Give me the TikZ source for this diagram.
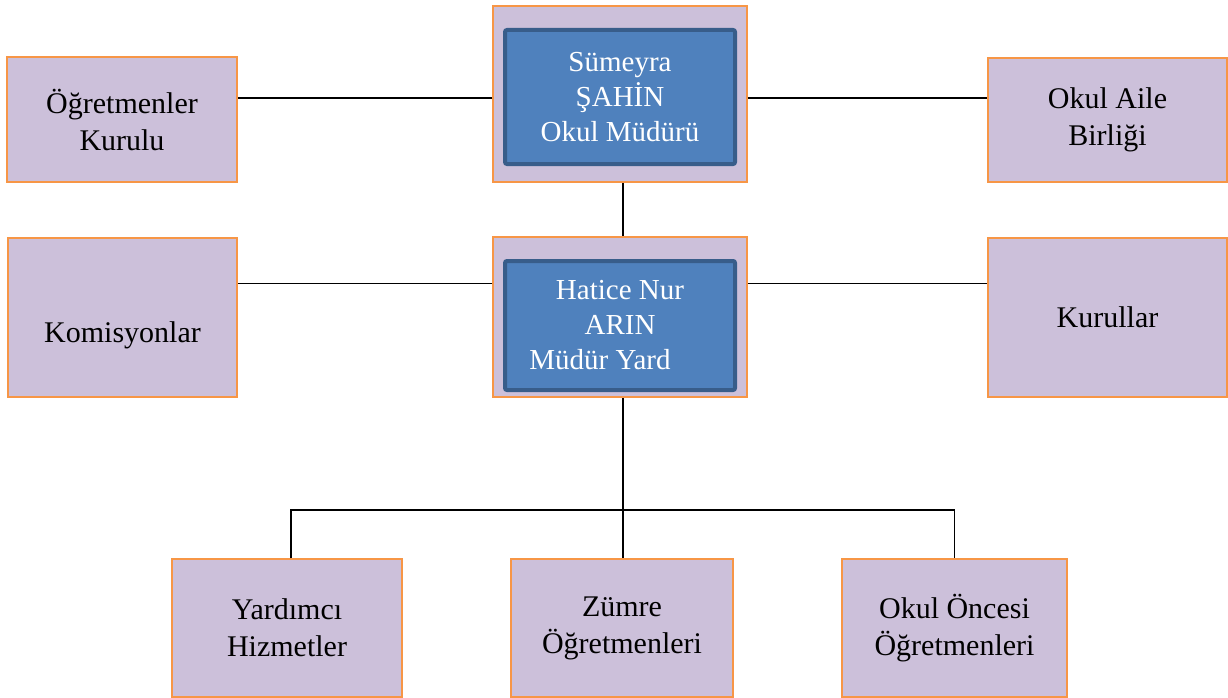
\documentclass[tikz,border=0pt]{standalone}
\usepackage{fontspec}
\setmainfont{Liberation Serif}
\definecolor{lil}{HTML}{CCC0DA}
\definecolor{org}{HTML}{F79646}
\definecolor{blu}{HTML}{4F81BD}
\definecolor{dblu}{HTML}{385D8A}
\begin{document}
\begin{tikzpicture}[x=1pt,y=-1pt,
  lbox/.style={draw=org, line width=1.5pt, fill=lil, inner sep=0pt, align=center, text=black,
    font=\fontsize{30}{37}\selectfont},
  bbox/.style={draw=dblu, line width=4pt, fill=blu, rounded corners=2pt, inner sep=0pt, align=center,
    text=white, font=\fontsize{29}{35}\selectfont},
  txt/.style={inner sep=0pt, align=center, text=black, font=\fontsize{30}{37}\selectfont},
  conn/.style={draw=black, line width=1.5pt}]
\useasboundingbox (0,0) rectangle (1228,698);
% boxes
\node[lbox, minimum width=230pt, minimum height=125pt] (ogr) at (122,119.5) {Öğretmenler\\Kurulu};
\node[lbox, minimum width=239pt, minimum height=124pt] (aile) at (1107.5,120) {Okul Aile\\Birliği};
\node[lbox, minimum width=254pt, minimum height=176pt] (top) at (620,94) {};
\node[bbox, minimum width=230pt, minimum height=134pt] (topin) at (620,97) {Sümeyra\\ŞAHİN\\Okul Müdürü};
\node[lbox, minimum width=229pt, minimum height=159pt] (kom) at (122.5,317.5) {};
\node[txt] (komt) at ([yshift=-18pt]kom.center) {Komisyonlar};
\node[lbox, minimum width=239pt, minimum height=159pt] (kur) at (1107.5,317.5) {Kurullar};
\node[lbox, minimum width=254pt, minimum height=160pt] (mid) at (620,317) {};
\node[bbox, minimum width=230pt, minimum height=129pt] (midin) at (620,325.5) {Hatice Nur\\ARIN\\\mbox{Müdür Yard\kern40pt}};
\node[lbox, minimum width=230pt, minimum height=138pt] (yard) at (287,628) {Yardımcı\\Hizmetler};
\node[lbox, minimum width=222pt, minimum height=138pt] (zum) at (622,628) {Zümre\\Öğretmenleri};
\node[lbox, minimum width=225pt, minimum height=138pt] (oko) at (954.5,628) {Okul Öncesi\\Öğretmenleri};
% connectors
\coordinate (ytop) at ([yshift=-4pt]top.west);
\coordinate (ytopr) at ([yshift=-4pt]top.east);
\draw[conn] (ytop) -- (ytop -| ogr.east);
\draw[conn] (ytopr) -- (ytopr -| aile.west);
\draw[conn] ([xshift=3pt]top.south) -- ([xshift=3pt]mid.north);
\coordinate (ymid) at ([yshift=-47pt]mid.north west);
\coordinate (ymidr) at ([yshift=-47pt]mid.north east);
\draw[conn] (ymid) -- (ymid -| kom.east);
\draw[conn] (ymidr) -- (ymidr -| kur.west);
\coordinate (bus) at (623,510);
\draw[conn] ([xshift=3pt]mid.south) -- (bus) -- (bus |- zum.north);
\draw[conn] ([xshift=4pt]yard.north) |- (bus);
\draw[conn] (bus) -| (oko.north);
\end{tikzpicture}
\end{document}
